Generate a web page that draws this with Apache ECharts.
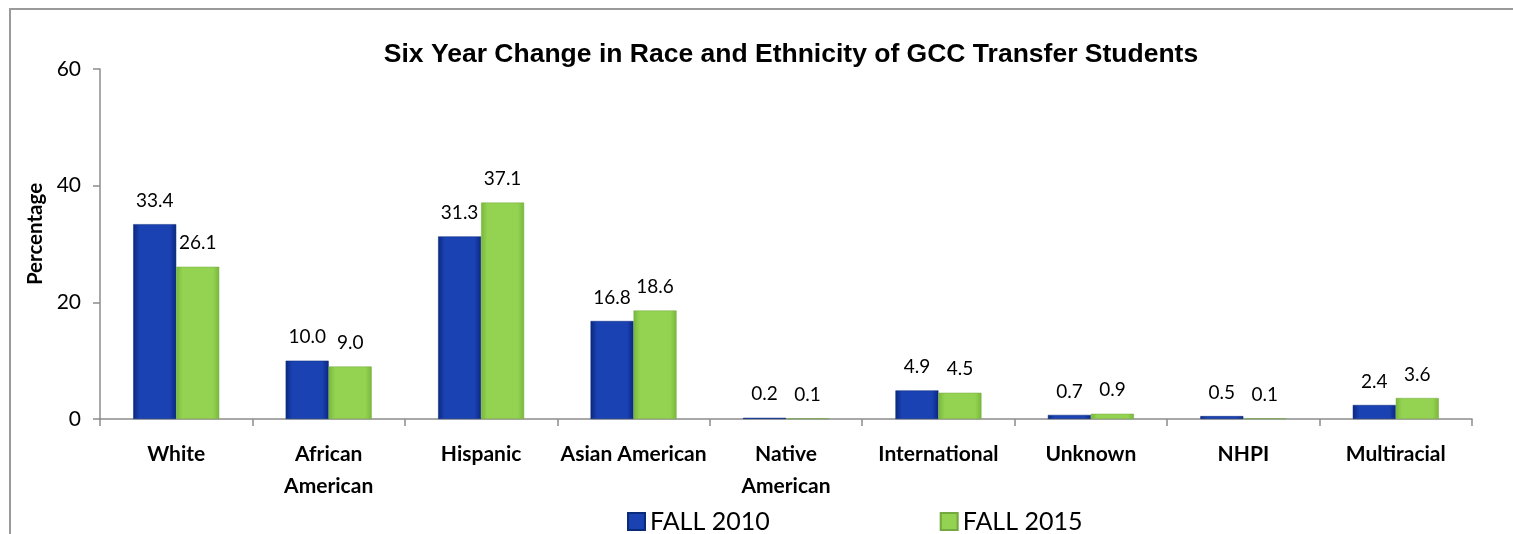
<!DOCTYPE html>
<html>
<head>
<meta charset="utf-8">
<script src="https://cdn.jsdelivr.net/npm/echarts@6/dist/echarts.min.js"></script>
<style>
  html, body { margin: 0; padding: 0; background: #fff; }
  #chart { width: 1513px; height: 534px; }
</style>
</head>
<body>
<div id="chart"></div>
<script>
// Data
const categories = ['White', 'African\nAmerican', 'Hispanic', 'Asian American', 'Native\nAmerican',
    'International', 'Unknown', 'NHPI', 'Multiracial'];
const fall2010 = [33.4, 10.0, 31.3, 16.8, 0.2, 4.9, 0.7, 0.5, 2.4];
const fall2015 = [26.1, 9.0, 37.1, 18.6, 0.1, 4.5, 0.9, 0.1, 3.6];
const yTicks = [0, 20, 40, 60];

// Calibri-like face for everything but the title
const body = 'Lato, "Liberation Sans", sans-serif';

const chart = echarts.init(document.getElementById('chart'));

const barGradient = (edge, mid) => new echarts.graphic.LinearGradient(0, 0, 1, 0, [
    { offset: 0, color: edge },
    { offset: 0.15, color: mid },
    { offset: 0.85, color: mid },
    { offset: 1, color: edge }
]);

const labelStyle = {
    show: true,
    position: 'top',
    distance: 14,
    fontFamily: body,
    fontSize: 19,
    color: '#000',
    formatter: (p) => p.value.toFixed(1)
};

const option = {
    animation: false,
    textStyle: { fontFamily: body },
    title: {
        text: 'Six Year Change in Race and Ethnicity of GCC Transfer Students',
        left: 786,
        textAlign: 'center',
        top: 36,
        textStyle: {
            fontFamily: '"Liberation Sans", Arial, sans-serif',
            fontWeight: 'bold',
            fontSize: 26.5,
            color: '#000'
        }
    },
    graphic: [{
        type: 'rect',
        shape: { x: 10, y: 9, width: 1600, height: 700 },
        style: { fill: 'none', stroke: '#9a9a9a', lineWidth: 2 },
        silent: true
    }],
    legend: {
        left: 622,
        top: 504,
        itemWidth: 17,
        itemHeight: 17,
        itemGap: 170,
        icon: 'rect',
        textStyle: { fontFamily: body, fontSize: 25, color: '#000' },
        data: ['FALL 2010', 'FALL 2015']
    },
    grid: {
        left: 100,
        right: 41,
        top: 69,
        bottom: 115
    },
    xAxis: {
        type: 'category',
        data: categories,
        axisLine: { lineStyle: { color: '#8c8c8c', width: 1.5 } },
        axisTick: { show: true, length: 7, lineStyle: { color: '#8c8c8c', width: 1.5 } },
        axisLabel: {
            interval: 0,
            margin: 19,
            fontFamily: body,
            fontWeight: 'bold',
            fontSize: 21,
            lineHeight: 32,
            color: '#000'
        }
    },
    yAxis: {
        type: 'value',
        min: yTicks[0],
        max: yTicks[yTicks.length - 1],
        interval: yTicks[1] - yTicks[0],
        name: 'Percentage',
        nameLocation: 'middle',
        nameRotate: 90,
        nameGap: 53,
        nameTextStyle: {
            fontFamily: body,
            fontWeight: 'bold',
            fontSize: 20.5,
            color: '#000',
            padding: [0, 0, 0, 20]
        },
        splitLine: { show: false },
        axisLine: { show: true, lineStyle: { color: '#8c8c8c', width: 1.5 } },
        axisTick: { show: true, length: 7, lineStyle: { color: '#8c8c8c', width: 1.5 } },
        axisLabel: {
            margin: 19,
            fontFamily: body,
            fontSize: 21,
            color: '#000'
        }
    },
    series: [
        {
            name: 'FALL 2010',
            type: 'bar',
            data: fall2010,
            barWidth: 43,
            barGap: '0%',
            itemStyle: {
                color: barGradient('#0a2780', '#1a42b2'),
                borderColor: '#0a2a7a',
                borderWidth: 0.5
            },
            label: labelStyle
        },
        {
            name: 'FALL 2015',
            type: 'bar',
            data: fall2015,
            barWidth: 43,
            itemStyle: {
                color: barGradient('#78b83a', '#94d352'),
                borderColor: '#74a840',
                borderWidth: 0.5
            },
            label: labelStyle
        }
    ]
};

chart.setOption(option);
</script>
</body>
</html>
